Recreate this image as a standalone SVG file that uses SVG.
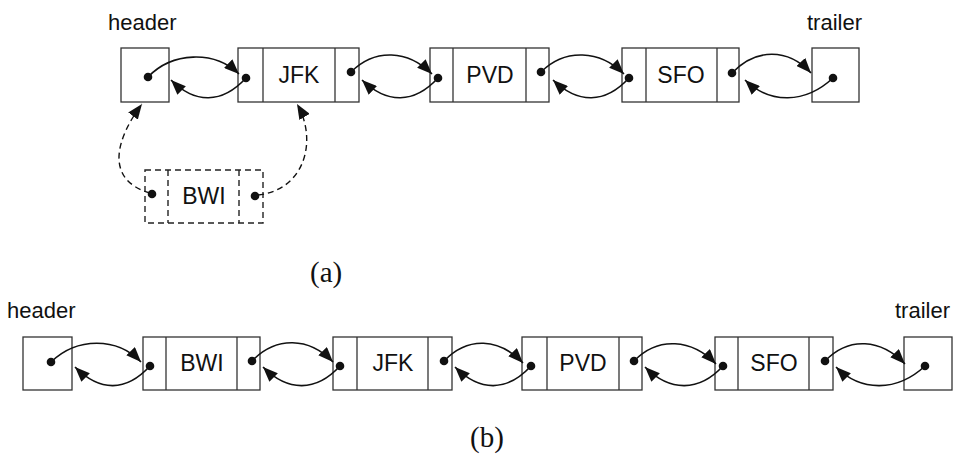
<svg xmlns="http://www.w3.org/2000/svg" width="957" height="454" viewBox="0 0 957 454">
<style>
.box{fill:none;stroke:#333;stroke-width:1.3}
.dbox{fill:none;stroke:#222;stroke-width:1.4;stroke-dasharray:6,4}
.lbl{font-family:"Liberation Sans",Arial,sans-serif;font-size:22px;fill:#111}
.nt{font-family:"Liberation Sans",Arial,sans-serif;font-size:23px;fill:#111;text-anchor:middle}
.cap{font-family:"Liberation Serif","Times New Roman",serif;font-size:29px;fill:#111}
.dot{fill:#111}
.arr{fill:none;stroke:#111;stroke-width:1.6;marker-end:url(#ah)}
.darr{fill:none;stroke:#111;stroke-width:1.4;stroke-dasharray:6,4;marker-end:url(#ah)}
</style>
<defs>
<marker id="ah" markerUnits="userSpaceOnUse" markerWidth="16" markerHeight="12" refX="15" refY="6" orient="auto">
<path d="M0,0 L15,6 L0,12 z" fill="#111"/>
</marker>
</defs>
<rect width="957" height="454" fill="#fff"/>

<!-- (a) -->
<text class="lbl" x="108" y="30">header</text>
<text class="lbl" x="807" y="30">trailer</text>

<g id="a-header"><rect class="box" x="121" y="48" width="48" height="54"/><circle class="dot" cx="148" cy="77" r="4.3"/></g>
<g id="a-jfk"><rect class="box" x="238" y="48" width="121" height="54"/><line class="box" x1="263" y1="48" x2="263" y2="102"/><line class="box" x1="335" y1="48" x2="335" y2="102"/><text class="nt" x="299" y="83">JFK</text><circle class="dot" cx="246" cy="78" r="4.3"/><circle class="dot" cx="351" cy="72" r="4.3"/></g>
<g id="a-pvd"><rect class="box" x="430" y="48" width="119" height="54"/><line class="box" x1="453" y1="48" x2="453" y2="102"/><line class="box" x1="526" y1="48" x2="526" y2="102"/><text class="nt" x="490" y="83">PVD</text><circle class="dot" cx="438" cy="78" r="4.3"/><circle class="dot" cx="541" cy="72" r="4.3"/></g>
<g id="a-sfo"><rect class="box" x="622" y="48" width="117" height="54"/><line class="box" x1="646" y1="48" x2="646" y2="102"/><line class="box" x1="717" y1="48" x2="717" y2="102"/><text class="nt" x="681" y="83">SFO</text><circle class="dot" cx="629" cy="78" r="4.3"/><circle class="dot" cx="732" cy="73" r="4.3"/></g>
<g id="a-trailer"><rect class="box" x="812" y="48" width="47" height="54"/><circle class="dot" cx="833" cy="78" r="4.3"/></g>
<g id="a-bwi"><rect class="dbox" x="145" y="170" width="118" height="53"/><line class="dbox" x1="168" y1="170" x2="168" y2="223"/><line class="dbox" x1="239" y1="170" x2="239" y2="223"/><text class="nt" x="204" y="204">BWI</text><circle class="dot" cx="152" cy="194" r="4.3"/><circle class="dot" cx="255" cy="196" r="4.3"/></g>
<text class="cap" x="310" y="282">(a)</text>

<!-- (b) -->
<text class="lbl" x="7" y="318">header</text>
<text class="lbl" x="895" y="318">trailer</text>

<g id="b-header"><rect class="box" x="23" y="337" width="49" height="53"/><circle class="dot" cx="51" cy="362" r="4.3"/></g>
<g id="b-bwi"><rect class="box" x="143" y="337" width="117" height="53"/><line class="box" x1="166" y1="337" x2="166" y2="390"/><line class="box" x1="237" y1="337" x2="237" y2="390"/><text class="nt" x="202" y="371">BWI</text><circle class="dot" cx="150" cy="366" r="4.3"/><circle class="dot" cx="252" cy="361" r="4.3"/></g>
<g id="b-jfk"><rect class="box" x="333" y="337" width="119" height="53"/><line class="box" x1="357" y1="337" x2="357" y2="390"/><line class="box" x1="428" y1="337" x2="428" y2="390"/><text class="nt" x="393" y="371">JFK</text><circle class="dot" cx="340" cy="366" r="4.3"/><circle class="dot" cx="444" cy="361" r="4.3"/></g>
<g id="b-pvd"><rect class="box" x="522" y="337" width="120" height="53"/><line class="box" x1="547" y1="337" x2="547" y2="390"/><line class="box" x1="619" y1="337" x2="619" y2="390"/><text class="nt" x="583" y="371">PVD</text><circle class="dot" cx="531" cy="366" r="4.3"/><circle class="dot" cx="634" cy="361" r="4.3"/></g>
<g id="b-sfo"><rect class="box" x="715" y="337" width="118" height="53"/><line class="box" x1="738" y1="337" x2="738" y2="390"/><line class="box" x1="809" y1="337" x2="809" y2="390"/><text class="nt" x="774" y="371">SFO</text><circle class="dot" cx="723" cy="366" r="4.3"/><circle class="dot" cx="825" cy="361" r="4.3"/></g>
<g id="b-trailer"><rect class="box" x="904" y="337" width="48" height="53"/><circle class="dot" cx="925" cy="366" r="4.3"/></g>
<text class="cap" x="470" y="447">(b)</text>

<g id="connectors">
<!-- (a) -->
<path class="arr" d="M148,77 C172,52 214,50 239,74"/>
<path class="arr" d="M246,78 C222,104 195,104 171,80"/>
<path class="arr" d="M351,72 C375,48 408,50 432,74"/>
<path class="arr" d="M438,78 C414,104 387,104 362,80"/>
<path class="arr" d="M541,72 C565,48 600,50 624,74"/>
<path class="arr" d="M629,78 C605,104 578,104 553,80"/>
<path class="arr" d="M732,73 C756,48 788,48 811,73"/>
<path class="arr" d="M833,78 C805,104 770,104 745,80"/>
<path class="darr" d="M150,193 C105,180 115,140 142,104"/>
<path class="darr" d="M258,195 C305,190 318,140 297,104"/>
<!-- (b) -->
<path class="arr" d="M51,362 C77,337 117,337 141,362"/>
<path class="arr" d="M150,366 C126,392 100,392 75,367"/>
<path class="arr" d="M252,361 C276,336 309,337 333,362"/>
<path class="arr" d="M340,366 C316,392 288,392 263,367"/>
<path class="arr" d="M444,361 C468,336 499,338 523,363"/>
<path class="arr" d="M531,366 C507,392 480,392 455,367"/>
<path class="arr" d="M634,361 C658,336 692,339 716,364"/>
<path class="arr" d="M723,366 C699,392 670,392 645,367"/>
<path class="arr" d="M825,361 C849,336 881,339 905,364"/>
<path class="arr" d="M925,366 C897,392 861,392 836,367"/>
</g>
</svg>
